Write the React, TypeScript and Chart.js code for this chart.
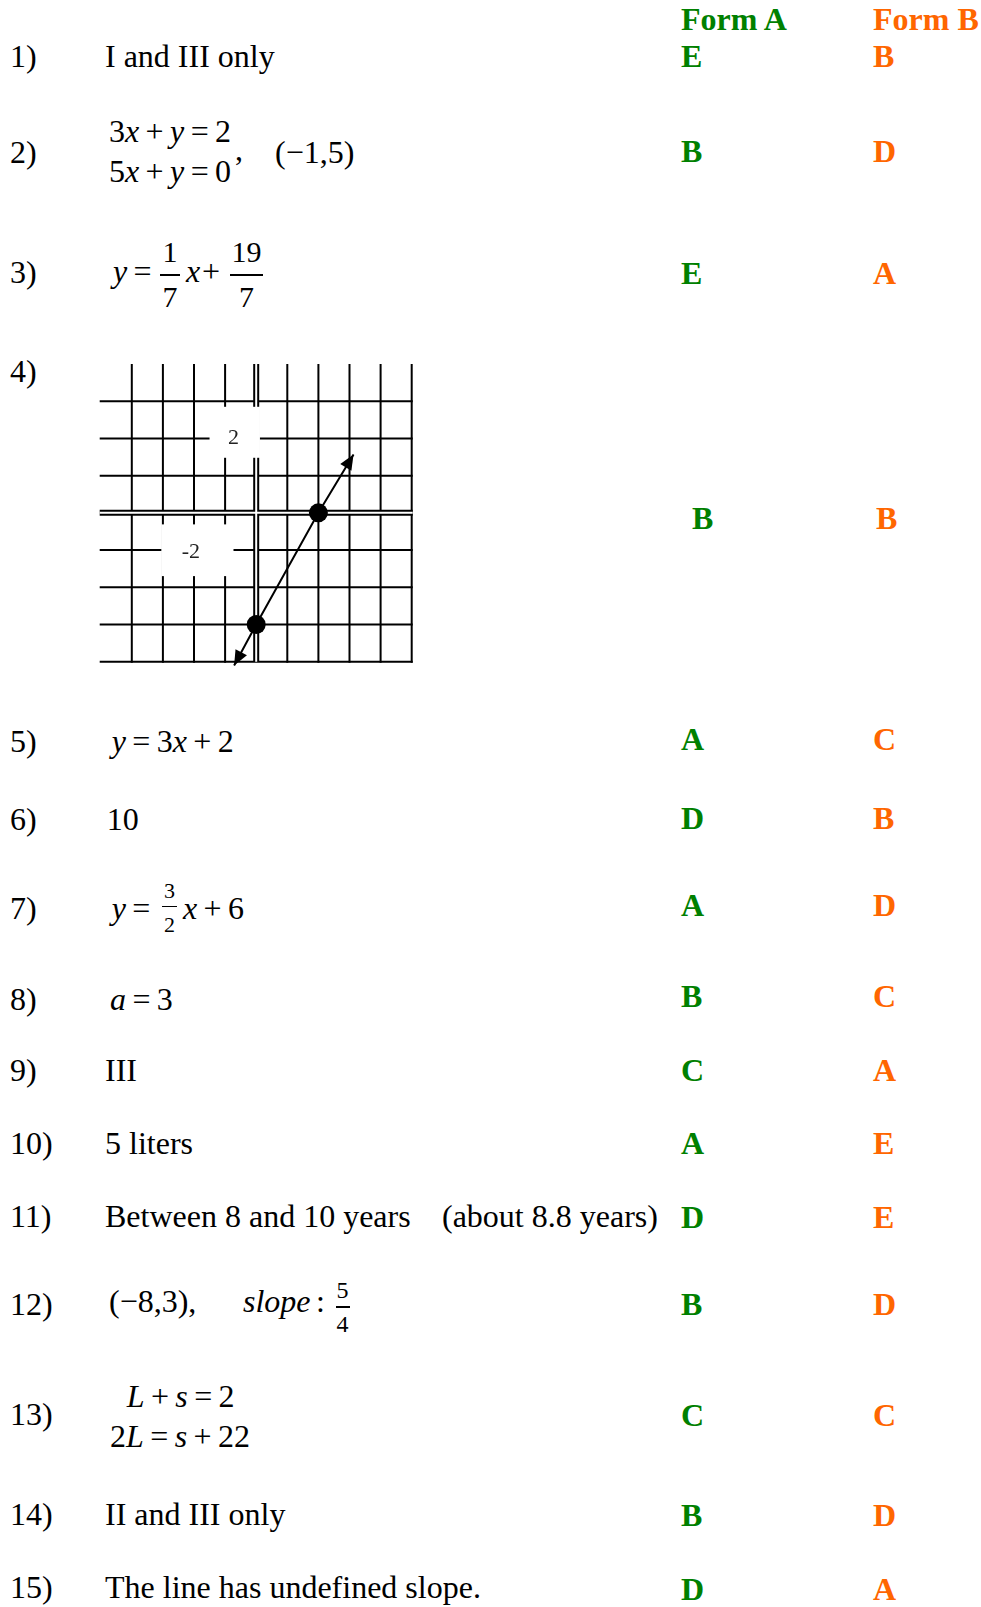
import React, { useEffect, useRef } from "react";
import { Chart, registerables } from "chart.js";

Chart.register(...registerables);

const FONT = '"Liberation Serif", "Times New Roman", Times, serif';
const GREEN = "#008000";
const ORANGE = "#FF6600";

// ---- answer key data ----
const questionNumbers = ["1)", "2)", "3)", "4)", "5)", "6)", "7)", "8)", "9)", "10)", "11)", "12)", "13)", "14)", "15)"];
const formAAnswers = ["E", "B", "E", "B", "A", "D", "A", "B", "C", "A", "D", "B", "C", "B", "D"];
const formBAnswers = ["B", "D", "A", "B", "C", "B", "D", "C", "A", "E", "E", "D", "C", "D", "A"];
const formHeaders = ["Form A", "Form B"];

// ---- graph (question 4) data ----
const gridXValues = [-4, -3, -2, -1, 0, 1, 2, 3, 4, 5];
const gridYValues = [-4, -3, -2, -1, 0, 1, 2, 3];
const lineXs = [-0.71, 0, 2, 3.13];
const lineYs = [-4.1, -3, 0, 1.57];
const dotRadii = [0, 9.5, 9.5, 0];
const tickLabelTexts = ["2", "-2"];
const tickLabelXs = [-0.73, -2.1];
const tickLabelYs = [1.84, -1.2];
const boxX0 = [-1.5, -3.05];
const boxX1 = [0.12, -0.73];
const boxY0 = [1.48, -1.7];
const boxY1 = [2.85, -0.31];

// ---- layout ----
const numberBaselines = [66.7, 163, 283, 381.7, 751.7, 830, 918.3, 1010, 1081, 1154, 1227, 1315, 1425, 1525, 1598];
const letterBaselines = [66.7, 161.7, 283.3, 529, 750, 829, 916, 1007, 1080.5, 1154, 1228, 1315, 1426, 1526, 1600];
const letterXA = [681, 681, 681, 692, 681, 681, 681, 681, 681, 681, 681, 681, 681, 681, 681];
const letterXB = [873, 873, 873, 876, 873, 873, 873, 873, 873, 873, 873, 873, 873, 873, 873];

type TP = {
  x: number;
  b: number;
  size?: number;
  bold?: boolean;
  italic?: boolean;
  color?: string;
  w?: number;
  align?: "left" | "center" | "right";
  children?: React.ReactNode;
};

function T({ x, b, size = 32, bold, italic, color = "#000", w, align, children }: TP) {
  return (
    <div
      style={{
        position: "absolute",
        left: x,
        top: b - 0.8375 * size,
        fontSize: size,
        lineHeight: `${size}px`,
        fontFamily: FONT,
        fontWeight: bold ? "bold" : "normal",
        fontStyle: italic ? "italic" : "normal",
        color,
        whiteSpace: "nowrap",
        width: w,
        textAlign: align,
      }}
    >
      {children}
    </div>
  );
}

const Op = ({ c }: { c: string }) => <span style={{ margin: "0 0.2em" }}>{c}</span>;

function Frac({ cx, num, den, numB, denB, barY, barW, size }: { cx: number; num: string; den: string; numB: number; denB: number; barY: number; barW: number; size: number }) {
  return (
    <>
      <T x={cx - 30} w={60} align="center" b={numB} size={size}>{num}</T>
      <div style={{ position: "absolute", left: cx - barW / 2, top: barY - 0.75, width: barW, height: 1.5, background: "#000" }} />
      <T x={cx - 30} w={60} align="center" b={denB} size={size}>{den}</T>
    </>
  );
}

function GraphChart() {
  const ref = useRef<HTMLCanvasElement | null>(null);
  useEffect(() => {
    if (!ref.current) return;
    const gridPlugin = {
      id: "gridPlugin",
      beforeDatasetsDraw(chart: any) {
        const ctx = chart.ctx;
        const xs = chart.scales.x;
        const ys = chart.scales.y;
        const X = (v: number) => xs.getPixelForValue(v);
        const Y = (v: number) => ys.getPixelForValue(v);
        const top = Y(4), bottom = Y(-4), left = X(-5), right = X(5);
        ctx.save();
        ctx.strokeStyle = "#000";
        ctx.lineWidth = 2;
        ctx.lineCap = "butt";
        gridXValues.forEach((v) => {
          if (v === 0) return;
          ctx.beginPath();
          ctx.moveTo(X(v), top);
          ctx.lineTo(X(v), bottom + 1);
          ctx.stroke();
        });
        gridYValues.forEach((v) => {
          if (v === 0) return;
          ctx.beginPath();
          ctx.moveTo(left - 1, Y(v));
          ctx.lineTo(right + 1, Y(v));
          ctx.stroke();
        });
        // double axes
        const axes = (w: number, color: string) => {
          ctx.strokeStyle = color;
          ctx.lineWidth = w;
          ctx.beginPath();
          ctx.moveTo(X(0), top);
          ctx.lineTo(X(0), bottom);
          ctx.stroke();
          ctx.beginPath();
          ctx.moveTo(left - 1, Y(0));
          ctx.lineTo(right + 1, Y(0));
          ctx.stroke();
        };
        axes(6, "#000");
        axes(2, "#fff");
        // white label boxes
        ctx.fillStyle = "#fff";
        boxX0.forEach((_, i) => {
          const x0 = X(boxX0[i]), x1 = X(boxX1[i]);
          const y0 = Y(boxY1[i]), y1 = Y(boxY0[i]);
          ctx.fillRect(x0, y0, x1 - x0, y1 - y0);
        });
        ctx.fillStyle = "#222";
        ctx.font = `22px ${FONT}`;
        ctx.textAlign = "center";
        ctx.textBaseline = "alphabetic";
        tickLabelTexts.forEach((t, i) => {
          ctx.fillText(t, X(tickLabelXs[i]), Y(tickLabelYs[i]));
        });
        ctx.restore();
      },
      afterDatasetsDraw(chart: any) {
        const ctx = chart.ctx;
        const xs = chart.scales.x;
        const ys = chart.scales.y;
        const n = lineXs.length;
        const head = (ti: number, pi: number) => {
          const tx = xs.getPixelForValue(lineXs[ti]);
          const ty = ys.getPixelForValue(lineYs[ti]);
          const px = xs.getPixelForValue(lineXs[pi]);
          const py = ys.getPixelForValue(lineYs[pi]);
          const dx = tx - px, dy = ty - py;
          const len = Math.hypot(dx, dy);
          const ux = dx / len, uy = dy / len;
          const L = 15, W = 6.5;
          const bx = tx - ux * L, by = ty - uy * L;
          ctx.beginPath();
          ctx.moveTo(tx, ty);
          ctx.lineTo(bx - uy * W, by + ux * W);
          ctx.lineTo(bx + uy * W, by - ux * W);
          ctx.closePath();
          ctx.fill();
        };
        ctx.save();
        ctx.fillStyle = "#000";
        head(0, 1);
        head(n - 1, n - 2);
        ctx.restore();
      },
    };
    const chart = new Chart(ref.current, {
      type: "scatter",
      data: {
        datasets: [
          {
            data: lineXs.map((x, i) => ({ x, y: lineYs[i] })),
            showLine: true,
            borderColor: "#000",
            borderWidth: 2,
            pointRadius: dotRadii,
            pointHoverRadius: dotRadii,
            pointBackgroundColor: "#000",
            pointBorderWidth: 0,
            clip: false,
          } as any,
        ],
      },
      options: {
        responsive: false,
        animation: false,
        events: [],
        layout: { padding: { left: 10.7, right: 18.3, top: 14, bottom: 18.3 } },
        plugins: { legend: { display: false }, tooltip: { enabled: false } },
        scales: {
          x: { type: "linear", min: -5, max: 5, display: false },
          y: { type: "linear", min: -4, max: 4, display: false },
        },
      },
      plugins: [gridPlugin],
    });
    return () => chart.destroy();
  }, []);
  return <canvas ref={ref} width={340} height={330} style={{ position: "absolute", left: 90, top: 350 }} />;
}

export default function App() {
  return (
    <div style={{ position: "absolute", left: 0, top: 0, width: 981, height: 1607, background: "#fff", overflow: "hidden", fontFamily: FONT }}>
      {/* headers */}
      <T x={681} b={30} bold color={GREEN}>{formHeaders[0]}</T>
      <T x={873} b={30} bold color={ORANGE}>{formHeaders[1]}</T>

      {/* question numbers */}
      {questionNumbers.map((q, i) => (
        <T key={"q" + i} x={10} b={numberBaselines[i]}>{q}</T>
      ))}

      {/* answers */}
      {formAAnswers.map((a, i) => (
        <T key={"a" + i} x={letterXA[i]} b={letterBaselines[i]} bold color={GREEN}>{a}</T>
      ))}
      {formBAnswers.map((a, i) => (
        <T key={"b" + i} x={letterXB[i]} b={letterBaselines[i]} bold color={ORANGE}>{a}</T>
      ))}

      {/* 1 */}
      <T x={105} b={66.7}>I and III only</T>

      {/* 2 */}
      <T x={109} b={141.7}>3<i>x</i><Op c="+" /><i>y</i><Op c="=" />2</T>
      <T x={109} b={181.7}>5<i>x</i><Op c="+" /><i>y</i><Op c="=" />0</T>
      <T x={235} b={160}>,</T>
      <T x={275} b={163}>(−1,5)</T>

      {/* 3 */}
      <T x={113} b={282}><i>y</i><Op c="=" /></T>
      <Frac cx={170} num="1" den="7" numB={261.7} denB={306.7} barY={275} barW={20} size={30} />
      <T x={186} b={282}><i>x</i></T>
      <T x={202} b={282}>+</T>
      <Frac cx={246.5} num="19" den="7" numB={261.7} denB={306.7} barY={275} barW={33} size={30} />

      {/* 4 */}
      <GraphChart />

      {/* 5 */}
      <T x={111.7} b={751.7}><i>y</i><Op c="=" />3<i>x</i><Op c="+" />2</T>

      {/* 6 */}
      <T x={106.7} b={830}>10</T>

      {/* 7 */}
      <T x={111.7} b={918.3}><i>y</i><Op c="=" /></T>
      <Frac cx={169.5} num="3" den="2" numB={898} denB={932} barY={906.7} barW={15} size={22} />
      <T x={183} b={918.3}><i>x</i><Op c="+" />6</T>

      {/* 8 */}
      <T x={110} b={1010}><i>a</i><Op c="=" />3</T>

      {/* 9 */}
      <T x={105} b={1081}>III</T>

      {/* 10 */}
      <T x={105} b={1154}>5 liters</T>

      {/* 11 */}
      <T x={105} b={1227}>Between 8 and 10 years</T>
      <T x={442} b={1227}>(about 8.8 years)</T>

      {/* 12 */}
      <T x={109} b={1312}>(−8,3),</T>
      <T x={243} b={1312}><i>slope</i></T>
      <T x={316} b={1312}>:</T>
      <Frac cx={342.5} num="5" den="4" numB={1298} denB={1332} barY={1307} barW={14} size={24} />

      {/* 13 */}
      <T x={126.7} b={1406.7}><i>L</i><Op c="+" /><i>s</i><Op c="=" />2</T>
      <T x={110} b={1446.7}>2<i>L</i><Op c="=" /><i>s</i><Op c="+" />22</T>

      {/* 14 */}
      <T x={105} b={1525}>II and III only</T>

      {/* 15 */}
      <T x={105} b={1598}>The line has undefined slope.</T>
    </div>
  );
}
